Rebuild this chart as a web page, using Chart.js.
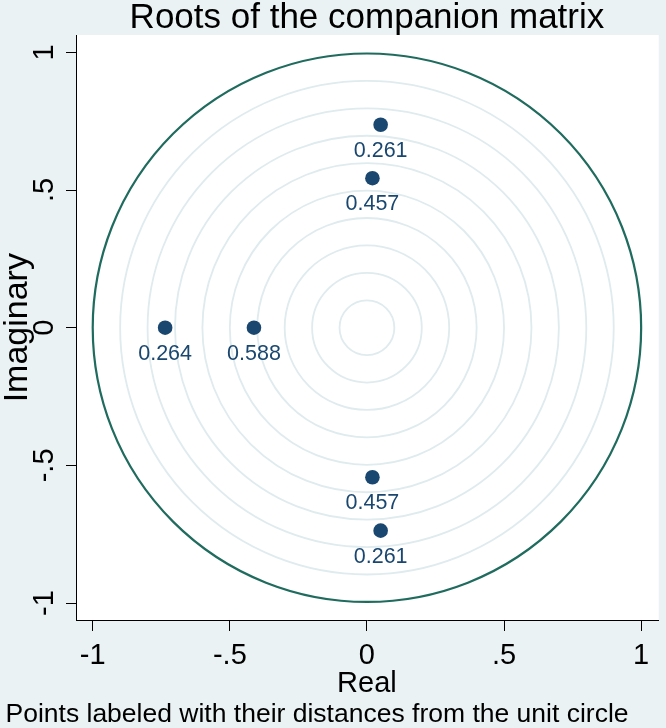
<!DOCTYPE html>
<html><head><meta charset="utf-8">
<script src="https://cdn.jsdelivr.net/npm/chart.js@4/dist/chart.umd.min.js"></script>
<style>html,body{margin:0;padding:0;background:#eaf2f3}canvas{display:block}</style>
</head><body>
<div style="width:666px;height:728px"><canvas id="c" width="666" height="728"></canvas></div>
<script>
// ---- data ----
const realParts = [0.05, 0.05, 0.02, 0.02, -0.736, -0.412];
const imagParts = [0.737, -0.737, 0.543, -0.543, 0, 0];
const distLabels = ['0.261', '0.261', '0.457', '0.457', '0.264', '0.588'];
const tickValues = [-1, -0.5, 0, 0.5, 1];
const tickLabels = ['-1', '-.5', '0', '.5', '1'];
const gridRadii = [0.1, 0.2, 0.3, 0.4, 0.5, 0.6, 0.7, 0.8, 0.9];
const unitRadius = 1;
const titleText = 'Roots of the companion matrix';
const xTitle = 'Real';
const yTitle = 'Imaginary';
const noteText = 'Points labeled with their distances from the unit circle';

const FONT = '"Liberation Sans", Arial, sans-serif';
const BG = '#eaf2f3';
const NAVY = '#1a476f';

const points = realParts.map((x, i) => ({x: x, y: imagParts[i]}));

const bgPlugin = {
  id: 'bg',
  beforeDraw(chart) {
    const ctx = chart.ctx, a = chart.chartArea;
    ctx.save();
    ctx.fillStyle = BG;
    ctx.fillRect(0, 0, chart.width, chart.height);
    ctx.fillStyle = '#ffffff';
    ctx.fillRect(a.left, a.top, a.right - a.left, a.bottom - a.top);
    ctx.restore();
  },
  beforeDatasetsDraw(chart) {
    const ctx = chart.ctx;
    const xs = chart.scales.x, ys = chart.scales.y;
    const cx = xs.getPixelForValue(0), cy = ys.getPixelForValue(0);
    ctx.save();
    ctx.strokeStyle = '#dfebee';
    ctx.lineWidth = 1.8;
    gridRadii.forEach(r => {
      const rp = xs.getPixelForValue(r) - cx;
      ctx.beginPath();
      ctx.arc(cx, cy, rp, 0, Math.PI * 2);
      ctx.stroke();
    });
    ctx.strokeStyle = '#1f6b5e';
    ctx.lineWidth = 2.2;
    const ru = xs.getPixelForValue(unitRadius) - cx;
    ctx.beginPath();
    ctx.arc(cx, cy, ru, 0, Math.PI * 2);
    ctx.stroke();
    ctx.restore();
  },
  afterDatasetsDraw(chart) {
    const ctx = chart.ctx;
    const meta = chart.getDatasetMeta(0);
    ctx.save();
    ctx.fillStyle = NAVY;
    ctx.font = '21.5px ' + FONT;
    ctx.textAlign = 'center';
    ctx.textBaseline = 'alphabetic';
    meta.data.forEach((pt, i) => {
      ctx.fillText(distLabels[i], pt.x, pt.y + 32);
    });
    ctx.restore();
  },
  afterDraw(chart) {
    const ctx = chart.ctx, a = chart.chartArea;
    const xs = chart.scales.x, ys = chart.scales.y;
    ctx.save();
    ctx.fillStyle = '#000';
    // title
    ctx.font = '35px ' + FONT;
    ctx.textAlign = 'center';
    ctx.textBaseline = 'alphabetic';
    ctx.fillText(titleText, xs.getPixelForValue(0), 28);
    // x ticks
    ctx.font = '29px ' + FONT;
    tickValues.forEach((v, i) => {
      ctx.fillText(tickLabels[i], xs.getPixelForValue(v), 664);
    });
    // x title
    ctx.fillText(xTitle, xs.getPixelForValue(0), 692);
    // note
    ctx.font = '26.5px ' + FONT;
    ctx.fillText(noteText, 317, 722);
    // y ticks rotated
    tickValues.forEach((v, i) => {
      ctx.save();
      ctx.translate(53, ys.getPixelForValue(v));
      ctx.rotate(-Math.PI / 2);
      ctx.font = '29px ' + FONT;
      ctx.textAlign = 'center';
      ctx.fillText(tickLabels[i], 0, 0);
      ctx.restore();
    });
    ctx.save();
    ctx.translate(27, ys.getPixelForValue(0));
    ctx.rotate(-Math.PI / 2);
    ctx.font = '34px ' + FONT;
    ctx.textAlign = 'center';
    ctx.fillText(yTitle, 0, 0);
    ctx.restore();
    ctx.restore();
  }
};

new Chart(document.getElementById('c'), {
  type: 'scatter',
  data: {
    datasets: [{
      data: points,
      backgroundColor: NAVY,
      borderWidth: 0,
      pointRadius: 7.3,
      pointHoverRadius: 7.3
    }]
  },
  options: {
    responsive: false,
    devicePixelRatio: 1,
    animation: false,
    layout: {padding: {top: 35, right: 5, left: 0, bottom: 0}},
    plugins: {legend: {display: false}, tooltip: {enabled: false}, title: {display: false}},
    scales: {
      x: {
        type: 'linear', min: -1.061, max: 1.064,
        afterBuildTicks(s) { s.ticks = tickValues.map(v => ({value: v})); },
        afterFit(s) { s.height = 108; },
        ticks: {display: false},
        grid: {drawOnChartArea: false, drawTicks: true, tickLength: 11, color: '#000', lineWidth: 1},
        border: {display: true, color: '#000', width: 1}
      },
      y: {
        type: 'linear', min: -1.0615, max: 1.063,
        afterBuildTicks(s) { s.ticks = tickValues.map(v => ({value: v})); },
        afterFit(s) { s.width = 76; },
        ticks: {display: false},
        grid: {drawOnChartArea: false, drawTicks: true, tickLength: 10, color: '#000', lineWidth: 1},
        border: {display: true, color: '#000', width: 1}
      }
    }
  },
  plugins: [bgPlugin]
});
</script>
</body></html>
